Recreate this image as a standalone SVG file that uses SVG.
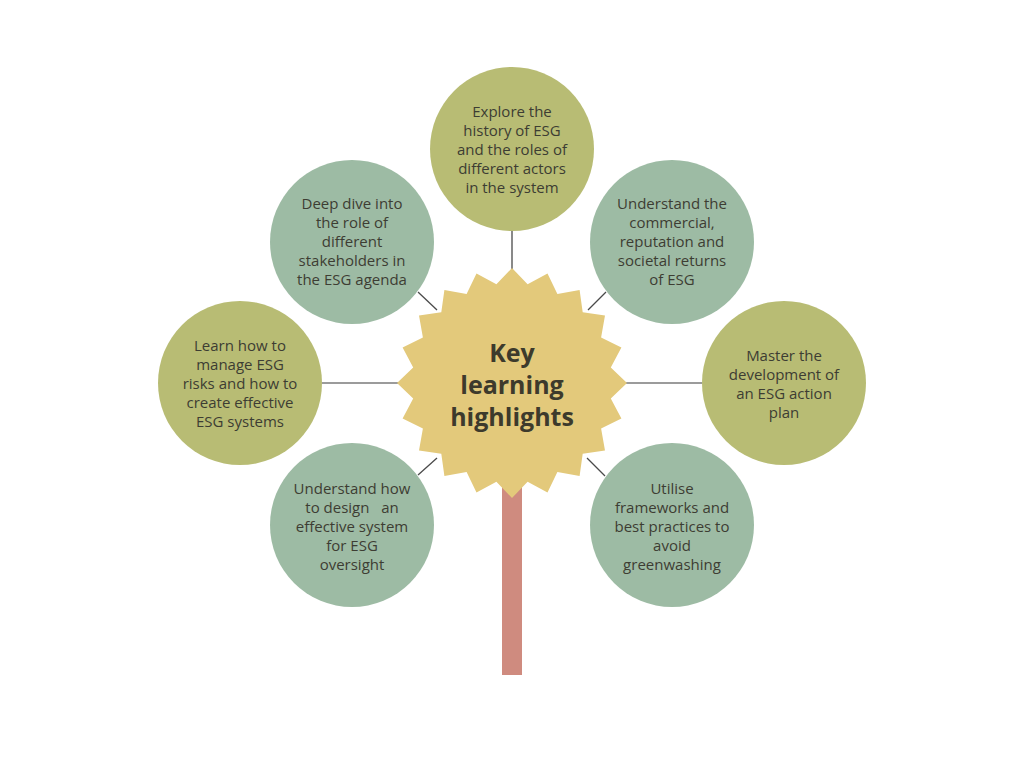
<svg xmlns="http://www.w3.org/2000/svg" width="1024" height="768" viewBox="0 0 1024 768">
<style>
.olive{fill:#b8bc74}
.sage{fill:#9dbba4}
.t{font-family:"Open Sans","Liberation Sans",sans-serif;font-size:15px;fill:#3d3d33;text-anchor:middle;dominant-baseline:central;white-space:pre}
.title{font-family:"Open Sans","Liberation Sans",sans-serif;font-size:25px;font-weight:bold;fill:#3d3a2c;text-anchor:middle;dominant-baseline:central}
.c{stroke:#4a4a4a;stroke-width:1.3;fill:none}
.h{stroke:#7a7a7a;stroke-width:1.5;fill:none}
</style>
<rect width="1024" height="768" fill="#ffffff"/>
<g id="connectors">
<line class="c" x1="512" y1="231" x2="512" y2="272"/>
<line class="h" x1="322" y1="383" x2="399" y2="383"/>
<line class="h" x1="625" y1="383" x2="702" y2="383"/>
<line class="c" x1="418" y1="292" x2="437" y2="310"/>
<line class="c" x1="418" y1="475" x2="437" y2="458"/>
<line class="c" x1="588" y1="310" x2="606" y2="292"/>
<line class="c" x1="587" y1="458" x2="605" y2="476"/>
</g>
<g id="stem">
<rect x="502" y="470" width="20" height="205" fill="#cf8b7f"/>
</g>
<g id="center">
<polygon fill="#e3c97b" points="512,268 527.6,284.2 547.5,273.6 557.4,293.9 579.6,290 582.7,312.3 605,315.4 601.1,337.6 621.4,347.5 610.8,367.4 627,383 610.8,398.6 621.4,418.5 601.1,428.4 605,450.6 582.7,453.7 579.6,476 557.4,472.1 547.5,492.4 527.6,481.8 512,498 496.4,481.8 476.5,492.4 466.6,472.1 444.4,476 441.3,453.7 419,450.6 422.9,428.4 402.6,418.5 413.2,398.6 397,383 413.2,367.4 402.6,347.5 422.9,337.6 419,315.4 441.3,312.3 444.4,290 466.6,293.9 476.5,273.6 496.4,284.2"/>
<text class="title" x="512" y="352">Key</text>
<text class="title" x="512" y="384">learning</text>
<text class="title" x="512" y="416">highlights</text>
</g>
<g id="node-top">
<circle class="olive" cx="512" cy="149" r="82"/>
<text class="t" x="512" y="111">Explore the</text>
<text class="t" x="512" y="130">history of ESG</text>
<text class="t" x="512" y="149">and the roles of</text>
<text class="t" x="512" y="168">different actors</text>
<text class="t" x="512" y="187">in the system</text>
</g>
<g id="node-upper-left">
<circle class="sage" cx="352" cy="242" r="82"/>
<text class="t" x="352" y="203">Deep dive into</text>
<text class="t" x="352" y="222">the role of</text>
<text class="t" x="352" y="241">different</text>
<text class="t" x="352" y="260">stakeholders in</text>
<text class="t" x="352" y="279">the ESG agenda</text>
</g>
<g id="node-upper-right">
<circle class="sage" cx="672" cy="242" r="82"/>
<text class="t" x="672" y="203">Understand the</text>
<text class="t" x="672" y="222">commercial,</text>
<text class="t" x="672" y="241">reputation and</text>
<text class="t" x="672" y="260">societal returns</text>
<text class="t" x="672" y="279">of ESG</text>
</g>
<g id="node-left">
<circle class="olive" cx="240" cy="383" r="82"/>
<text class="t" x="240" y="345">Learn how to</text>
<text class="t" x="240" y="364">manage ESG</text>
<text class="t" x="240" y="383">risks and how to</text>
<text class="t" x="240" y="402">create effective</text>
<text class="t" x="240" y="421">ESG systems</text>
</g>
<g id="node-right">
<circle class="olive" cx="784" cy="383" r="82"/>
<text class="t" x="784" y="355">Master the</text>
<text class="t" x="784" y="374">development of</text>
<text class="t" x="784" y="393">an ESG action</text>
<text class="t" x="784" y="412">plan</text>
</g>
<g id="node-lower-left">
<circle class="sage" cx="352" cy="525" r="82"/>
<text class="t" x="352" y="488">Understand how</text>
<text class="t" x="352" y="507" xml:space="preserve">to design   an</text>
<text class="t" x="352" y="526">effective system</text>
<text class="t" x="352" y="545">for ESG</text>
<text class="t" x="352" y="564">oversight</text>
</g>
<g id="node-lower-right">
<circle class="sage" cx="672" cy="525" r="82"/>
<text class="t" x="672" y="488">Utilise</text>
<text class="t" x="672" y="507">frameworks and</text>
<text class="t" x="672" y="526">best practices to</text>
<text class="t" x="672" y="545">avoid</text>
<text class="t" x="672" y="564">greenwashing</text>
</g>
</svg>
